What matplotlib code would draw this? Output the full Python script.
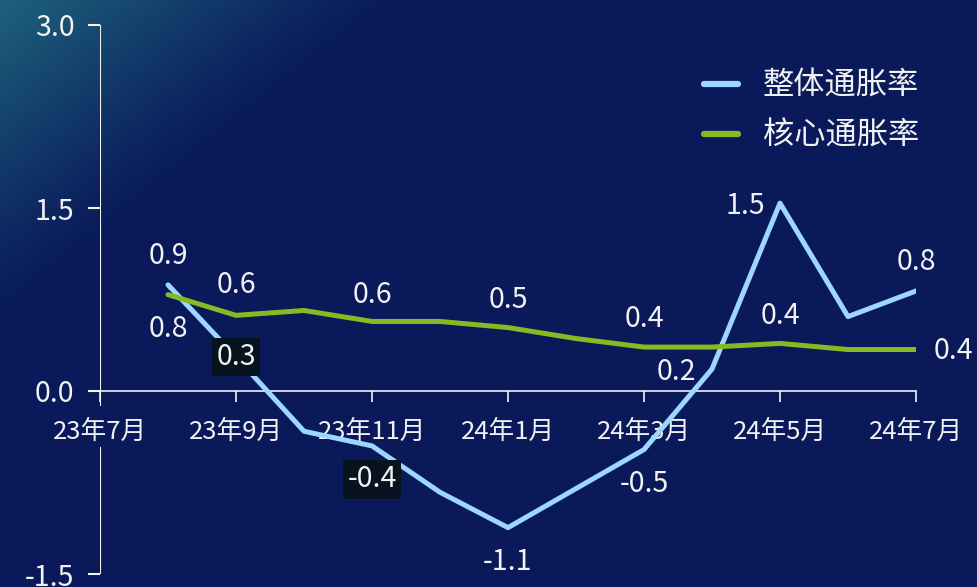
import numpy as np
import matplotlib
matplotlib.use('Agg')
import matplotlib.pyplot as plt

plt.rcParams['font.family'] = ['Noto Sans CJK SC', 'DejaVu Sans']

# data
tick_labels = ['23年7月', '23年9月', '23年11月', '24年1月', '24年3月', '24年5月', '24年7月']
months = ['23年8月', '23年9月', '23年10月', '23年11月', '23年12月', '24年1月',
          '24年2月', '24年3月', '24年4月', '24年5月', '24年6月', '24年7月']
headline = [0.87, 0.28, -0.33, -0.45, -0.83, -1.12, -0.80, -0.48, 0.18, 1.54, 0.61, 0.82]
core = [0.79, 0.62, 0.66, 0.57, 0.57, 0.52, 0.43, 0.36, 0.36, 0.39, 0.34, 0.34]
headline_labels = {0: '0.9', 1: '0.3', 3: '-0.4', 5: '-1.1', 7: '-0.5', 8: '0.2', 9: '1.5', 11: '0.8'}
core_labels = {0: '0.8', 1: '0.6', 3: '0.6', 5: '0.5', 7: '0.4', 9: '0.4', 11: '0.4'}

blue = '#9dd7ff'
green = '#84bb22'
white = '#f2f2f2'

fig = plt.figure(figsize=(9.77, 5.87), dpi=100)

# background gradient
bg = fig.add_axes([0, 0, 1, 1], zorder=-1)
H, W = 587, 977
yy, xx = np.mgrid[0:H, 0:W]
d = xx / 400.0 + yy / 320.0
w = np.clip(1 - d, 0, 1) ** 1.1
navy = np.array([9, 25, 90]) / 255.0
teal = np.array([30, 98, 124]) / 255.0
img = navy[None, None, :] * (1 - w[..., None]) + teal[None, None, :] * w[..., None]
bg.imshow(img, aspect='auto', extent=[0, 1, 0, 1])
bg.axis('off')

ax = fig.add_axes([100 / 977, 1 - 574 / 587, 816 / 977, 549 / 587])
ax.patch.set_alpha(0)

x = np.arange(1, len(months) + 1)
ax.plot(x, headline, color=blue, lw=3.6, solid_capstyle='round', label='整体通胀率', zorder=3)
ax.plot(x, core, color=green, lw=3.6, solid_capstyle='round', label='核心通胀率', zorder=3.5)

ax.set_xlim(0, 12)
ax.set_ylim(-1.5, 3.0)
ax.set_xticks(np.arange(0, 13, 2))
ax.set_xticklabels(tick_labels)
ax.set_yticks([-1.5, 0, 1.5, 3.0])
ax.set_yticklabels(['-1.5', '0.0', '1.5', '3.0'])

for s in ['top', 'right', 'left']:
    ax.spines[s].set_visible(False)
ax.spines['bottom'].set_position(('data', 0))
ax.spines['bottom'].set_color(white)
ax.spines['bottom'].set_linewidth(1.2)
# left spine with a gap behind the first month label
ax.axvline(0, 0, 0.229, color=white, lw=1.5, zorder=2)
ax.axvline(0, 0.307, 1, color=white, lw=1.5, zorder=2)

ax.tick_params(axis='y', colors=white, length=8.5, width=1.5, pad=10, labelsize=20.5)
ax.tick_params(axis='x', colors=white, length=8, width=1.2, pad=12, labelsize=18.5)

# data labels (offsets in points)
h_off = {0: (0, 21), 1: (0, 0), 3: (0, -24), 5: (0, -25), 7: (0, -25),
         8: (-26, -2), 9: (-25, -2), 11: (0, 21)}
c_off = {0: (0, -25), 1: (0, 22), 3: (0, 19), 5: (0, 20), 7: (0, 20),
         9: (0, 20), 11: (27, -1)}
boxed = {1, 3}
for i, txt in headline_labels.items():
    kw = {}
    if i in boxed:
        kw['bbox'] = dict(boxstyle='square,pad=0.15', fc='#07131f', ec='none')
    ax.annotate(txt, (x[i], headline[i]), xytext=h_off[i], textcoords='offset points',
                ha='center', va='center', color=white, fontsize=20.5, zorder=5,
                annotation_clip=False, **kw)
for i, txt in core_labels.items():
    ax.annotate(txt, (x[i], core[i]), xytext=c_off[i], textcoords='offset points',
                ha='center', va='center', color=white, fontsize=20.5, zorder=5,
                annotation_clip=False)

leg = ax.legend(loc='upper right', bbox_to_anchor=(1.023, 0.947), frameon=False,
                fontsize=22.5, handlelength=1.1, handletextpad=0.8, labelspacing=0.57,
                borderpad=0)
for t in leg.get_texts():
    t.set_color(white)
for l in leg.get_lines():
    l.set_linewidth(4.5)
    l.set_solid_capstyle('round')

fig.savefig('out.png', dpi=100)
